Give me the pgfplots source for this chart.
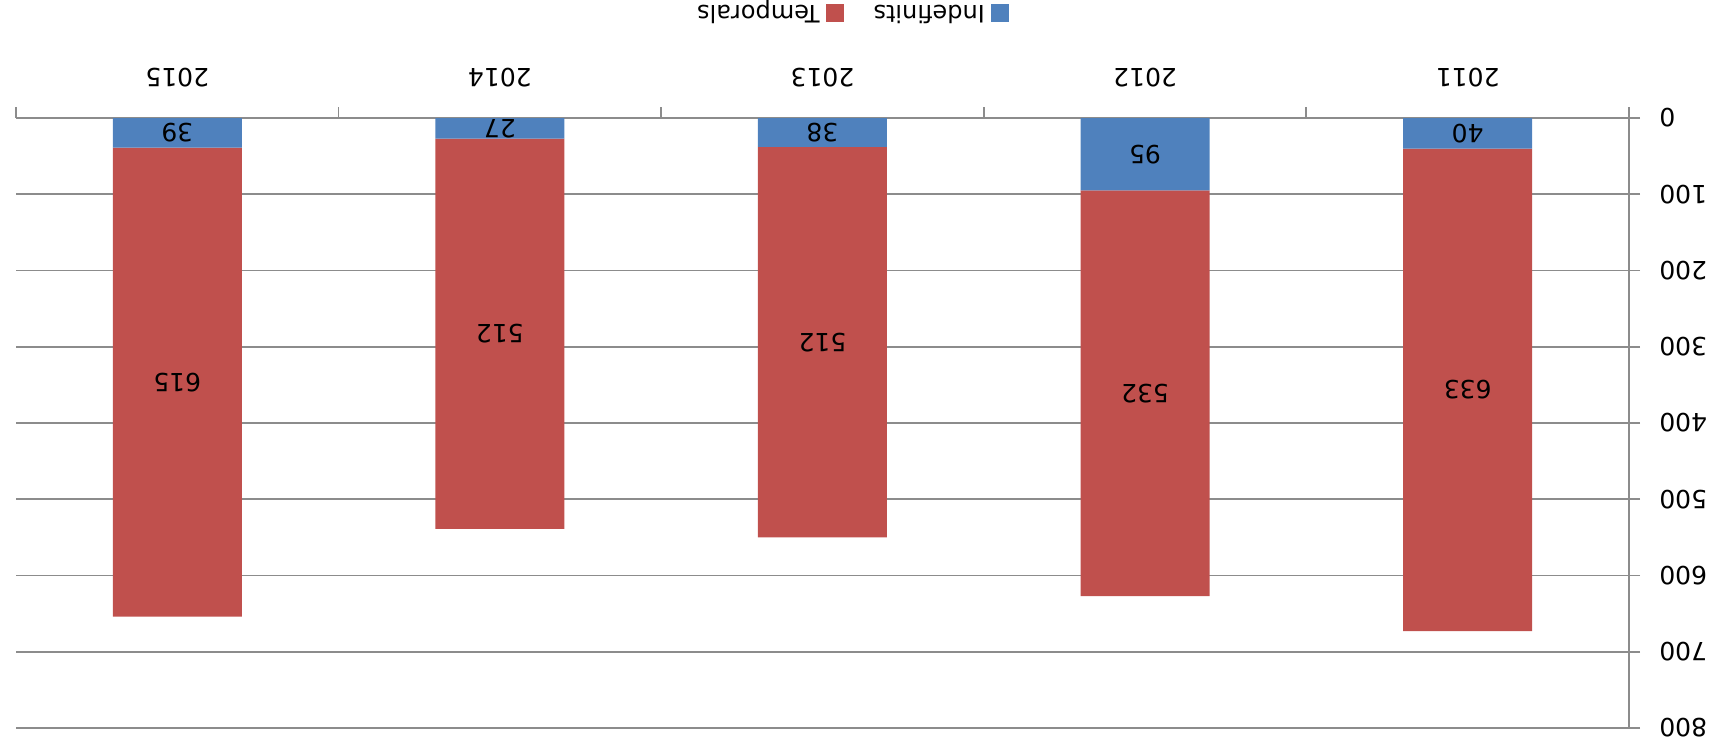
\documentclass[border=0pt]{standalone}
\usepackage{fontspec}
\setmainfont{DejaVu Sans}
\usepackage{pgfplots}
\usepackage{pgfplotstable}
\pgfplotsset{compat=1.18}

\definecolor{indef}{HTML}{4F81BD}
\definecolor{temp}{HTML}{C0504D}
\definecolor{gridgray}{HTML}{8C8C8C}

% contractes per any: indefinits i temporals
\pgfplotstableread{
x year ind temp
0 2011 40 633
1 2012 95 532
2 2013 38 512
3 2014 27 512
4 2015 39 615
}\contractes

\begin{document}
\begin{tikzpicture}[rotate=180, transform shape]
\begin{axis}[
  scale only axis,
  width=806.5pt, height=305pt,
  ybar stacked,
  bar width=64.5pt,
  xmin=-0.5, xmax=4.5,
  ymin=0, ymax=800,
  xtick={0,...,4},
  xticklabels={2011,2012,2013,2014,2015},
  minor xtick={-0.5,0.5,...,4.5},
  ytick={0,100,...,800},
  axis x line*=bottom, axis y line*=left,
  axis line style={gridgray, line width=0.9pt},
  ymajorgrids,
  grid style={gridgray, line width=0.9pt},
  tick align=outside,
  major tick length=5.5pt, minor tick length=5.5pt,
  tick style={gridgray, line width=0.9pt},
  major x tick style={draw=none},
  /pgf/number format/assume math mode=true,
  tick label style={font=\fontsize{12.5}{15}\selectfont, text=black},
  yticklabel style={anchor=east, inner sep=0pt, xshift=-9.5pt},
  xticklabel style={anchor=north, yshift=-6.5pt},
  clip=false,
  legend columns=2,
  legend style={draw=none, fill=none, inner sep=0pt, at={(0.4823,-0.172)}, anchor=center,
    font=\fontsize{12}{14}\selectfont,
    nodes={inner ysep=0pt},
    /tikz/every odd column/.append style={column sep=1pt},
    /tikz/every even column/.append style={column sep=13pt}},
  legend image code/.code={\fill[#1] (0pt,-4.5pt) rectangle (9pt,4.5pt);},
  nodes near coords={\pgfmathprintnumber[fixed,precision=0]{\lab}},
  every node near coord/.append style={anchor=center, font=\fontsize{12.5}{15}\selectfont, text=black},
]
\addplot[fill=indef, draw=none,
  visualization depends on={\thisrow{ind} \as \lab}]
  table[x=x, y=ind] {\contractes};
\addlegendentry{Indefinits}
\addplot[fill=temp, draw=none,
  visualization depends on={\thisrow{temp} \as \lab}]
  table[x=x, y=temp] {\contractes};
\addlegendentry{Temporals}
\path (rel axis cs:0,0) ++(-41pt,-59pt);
\path (rel axis cs:1,1) ++(8pt,12pt);
\end{axis}
\end{tikzpicture}
\end{document}
